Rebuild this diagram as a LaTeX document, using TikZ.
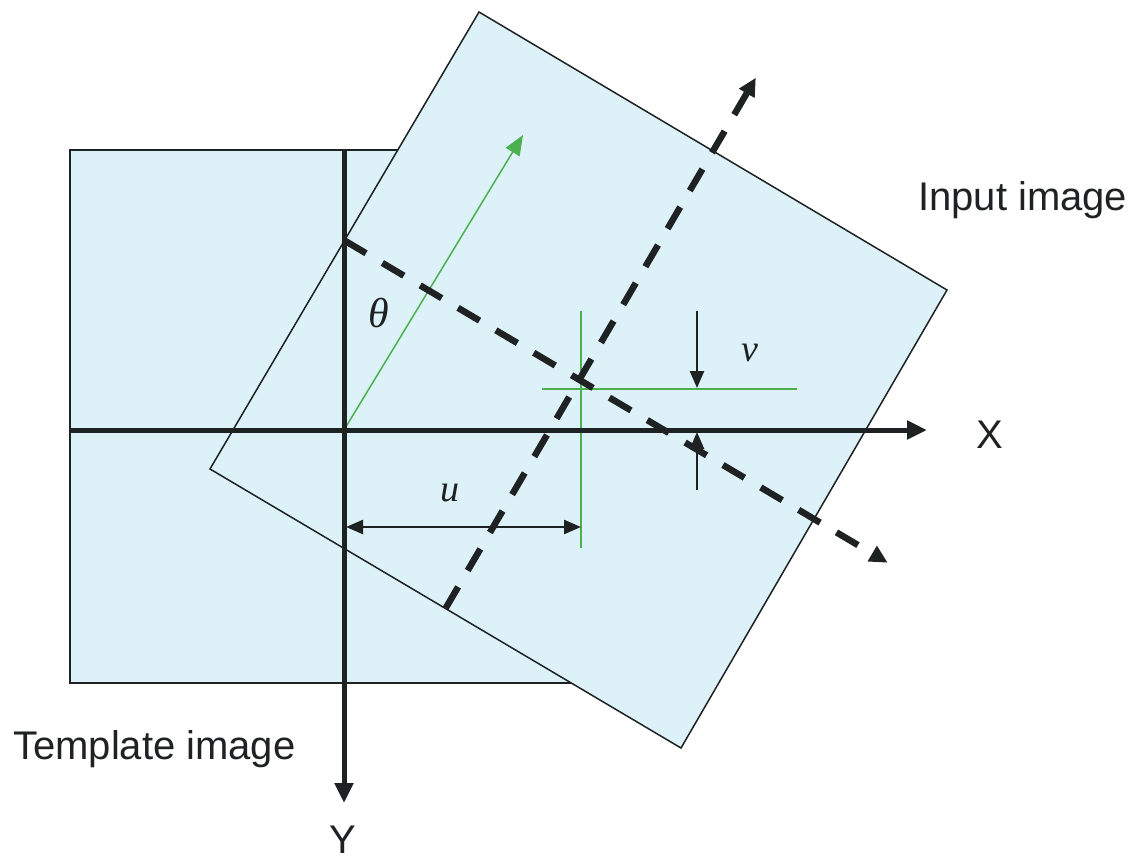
\documentclass[tikz,border=0pt]{standalone}
\usepackage{fontspec}
\setmainfont{Liberation Sans}
\newfontfamily\serf{Liberation Serif}
\usetikzlibrary{arrows.meta,calc}
\definecolor{paneblue}{RGB}{221,241,249}
\definecolor{vecgreen}{RGB}{76,175,80}
\definecolor{ink}{RGB}{30,34,34}
\begin{document}
\begin{tikzpicture}[x=1pt,y=-1pt,
  pane/.style={fill=paneblue, draw=ink, line width=1.5pt, line join=miter},
  axisline/.style={line width=5pt, draw=ink, -{Triangle[length=20pt,width=18pt]}},
  rotaxis/.style={line width=6.5pt, draw=ink, dash pattern=on 25pt off 19pt, -{Triangle[length=18pt,width=17pt]}},
  guide/.style={draw=vecgreen, line width=1.5pt},
  dimline/.style={line width=2.5pt, draw=ink},
  lbl/.style={font=\fontsize{40}{44}\selectfont, text=ink, inner sep=0pt},
  mlbl/.style={font=\fontsize{38}{42}\selectfont\serf\itshape, text=ink, inner sep=0pt}]
\useasboundingbox (0,0) rectangle (1133,863);
\fill[white] (0,0) rectangle (1133,863);

% template image
\draw[pane] (70,150) rectangle (614,683);

% input image (rotated)
\coordinate (T) at (479,12);
\coordinate (R) at (947,290);
\coordinate (B) at (681,748);
\coordinate (L) at (210,469);
\draw[pane] (T) -- (R) -- (B) -- (L) -- cycle;

% midpoints of the input image sides
\coordinate (mLT) at ($(L)!0.5!(T)$);
\coordinate (mTR) at ($(T)!0.5!(R)$);
\coordinate (mRB) at ($(R)!0.5!(B)$);
\coordinate (mBL) at ($(B)!0.5!(L)$);
\coordinate (d1tip) at ($(mBL)!1.16!(mTR)$);
\coordinate (d2tip) at ($(mLT)!1.157!(mRB)$);

% template axes
\coordinate (O) at (344,430);
\coordinate (Ytop) at (344,150);
\coordinate (Ytip) at (344,803);
\coordinate (Xleft) at (70,430);
\coordinate (Xtip) at (927,430);

% green guides
\coordinate (G) at (523,135);
\coordinate (gvT) at (581,311);
\coordinate (gvB) at (581,548);
\coordinate (ghL) at (542,389);
\coordinate (ghR) at (797,389);

% dimension arrows
\coordinate (uL) at (346,527);
\coordinate (uR) at (581,527);
\coordinate (v1a) at (697,311);
\coordinate (v1b) at (697,388);
\coordinate (v2a) at (697,490);
\coordinate (v2b) at (697,432);

\draw[guide, -{Triangle[length=20pt,width=16pt]}] (O) -- (G);
\draw[guide] (gvT) -- (gvB);
\draw[guide] (ghL) -- (ghR);

\draw[axisline] (Ytop) -- (Ytip);
\draw[axisline] (Xleft) -- (Xtip);

\draw[rotaxis] (mBL) -- (d1tip);
\draw[rotaxis] (mLT) -- (d2tip);

\draw[dimline, {Triangle[length=17pt,width=14pt]}-{Triangle[length=17pt,width=14pt]}] (uL) -- (uR);
\draw[dimline, -{Triangle[length=17pt,width=14pt]}] (v1a) -- (v1b);
\draw[dimline, -{Triangle[length=17pt,width=14pt]}] (v2a) -- (v2b);

% labels
\node[lbl, anchor=base west] (inlbl) at (918,210) {Input image};
\node[lbl, anchor=base west] (tpllbl) at (13,759) {Template image};
\node[lbl] (xlbl) at (990,435) {X};
\node[lbl] (ylbl) at (343,840) {Y};
\node[mlbl, font=\fontsize{42}{46}\selectfont\serf\itshape] (thlbl) at (379,313) {θ};
\node[mlbl] (ulbl) at (450,493) {u};
\node[mlbl] (vlbl) at (750,353) {v};
\end{tikzpicture}
\end{document}
